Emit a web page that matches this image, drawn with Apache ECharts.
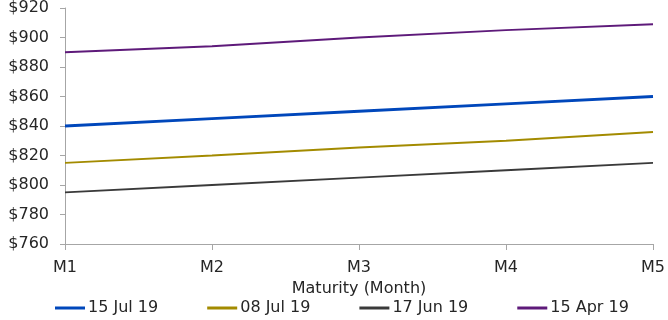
<!DOCTYPE html>
<html><head><meta charset="utf-8">
<script src="https://cdn.jsdelivr.net/npm/echarts@6/dist/echarts.min.js"></script>
<style>html,body{margin:0;padding:0;background:#fff}#c{width:668px;height:320px}</style>
</head><body><div id="c"></div>
<script>
const categories = ['M1','M2','M3','M4','M5'];
const s15Jul = [840, 845, 850, 855, 860];
const s08Jul = [815, 820, 825.5, 830, 836];
const s17Jun = [795, 800, 805, 810, 815];
const s15Apr = [890, 894, 900, 905, 909];
const seriesNames = ['15 Jul 19','08 Jul 19','17 Jun 19','15 Apr 19'];
const font = '"DejaVu Sans", sans-serif';
const chart = echarts.init(document.getElementById('c'));
const colors = ['#0047BB','#A38B00','#3A3A3A','#5E1A7A'];
const widths = [3,2,2,2];
const data = [s15Jul, s08Jul, s17Jun, s15Apr];
chart.setOption({
  animation:false,
  grid:{left:65,right:14,top:7,bottom:76},
  legend:{bottom:4,left:55,padding:0,itemWidth:30,itemHeight:3,itemGap:49,icon:'rect',
    textStyle:{fontFamily:font,fontSize:16,color:'#262626',padding:[0,0,0,-2]},
    data:seriesNames},
  xAxis:{type:'category',data:categories,boundaryGap:false,
    name:'Maturity (Month)',nameLocation:'middle',nameGap:31,
    nameTextStyle:{fontFamily:font,fontSize:16,color:'#262626'},
    axisLine:{lineStyle:{color:'#A6A6A6',width:1}},
    axisTick:{show:true,length:6,lineStyle:{color:'#A6A6A6'}},
    axisLabel:{fontFamily:font,fontSize:16,color:'#262626',margin:16,
      align:'center'}},
  yAxis:{type:'value',min:760,max:920,interval:20,
    axisLine:{show:true,lineStyle:{color:'#A6A6A6'}},
    axisTick:{show:true,length:5,lineStyle:{color:'#A6A6A6'}},
    splitLine:{show:false},
    axisLabel:{fontFamily:font,fontSize:16,color:'#262626',margin:16,formatter:v=>'$'+v}},
  series:seriesNames.map((n,i)=>({name:n,type:'line',data:data[i],symbol:'none',
    color:colors[i],lineStyle:{width:widths[i],color:colors[i]}}))
});
</script></body></html>
